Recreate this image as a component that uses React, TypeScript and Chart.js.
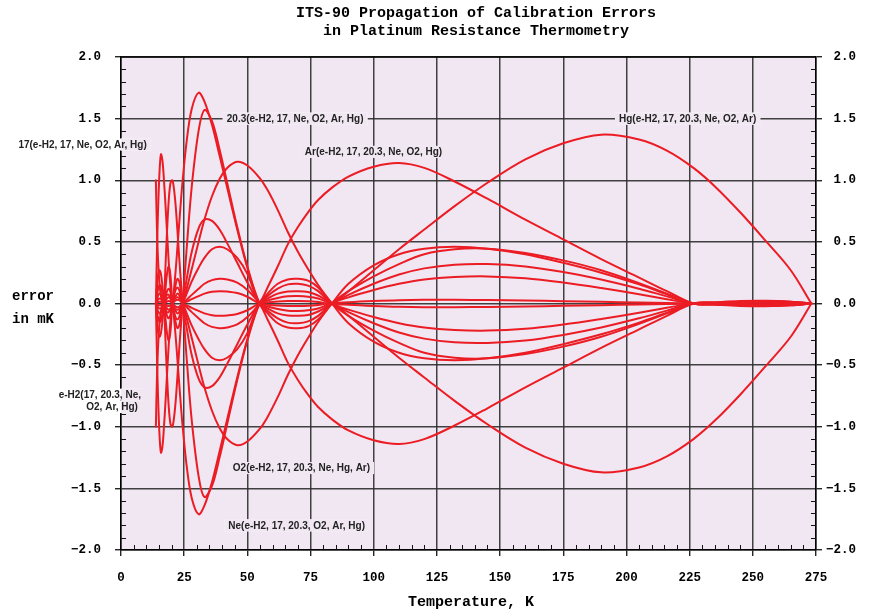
import React, { useEffect, useRef } from "react";
import { Chart, registerables } from "chart.js";

Chart.register(...registerables);

const TITLE_LINES = ["ITS-90 Propagation of Calibration Errors", "in Platinum Resistance Thermometry"];
const X_TITLE = "Temperature, K";
const Y_TITLE = ["error", "in mK"];
const X_TICKS = [0, 25, 50, 75, 100, 125, 150, 175, 200, 225, 250, 275];
const Y_TICKS = [-2, -1.5, -1, -0.5, 0, 0.5, 1, 1.5, 2];

// temperatures (K) at which the curves were read
const TEMPS = [13.8, 14.2, 14.6, 15.2, 15.8, 16.4, 17.0, 17.6, 18.2, 18.9, 19.6, 20.3, 20.9, 21.6, 22.3, 23.0, 23.7, 24.4, 26, 28, 30.7, 33, 36, 39, 42, 46, 50, 54.8, 58, 62, 66, 70, 74, 78, 83.5, 90, 100, 110, 120, 132, 145, 160, 175, 190, 205, 216, 226.5, 235, 245, 255, 265, 273.16];

const EH2_POS = [1.0, 0.62, 0.38, 0.17, 0.06, 0.01, 0, -0.04, -0.07, -0.07, -0.04, 0, 0.025, 0.045, 0.05, 0.045, 0.025, 0, -0.08, -0.18, -0.29, -0.37, -0.44, -0.46, -0.44, -0.37, -0.24, 0, 0.025, 0.045, 0.058, 0.06, 0.055, 0.04, 0, -0.01, -0.02, -0.027, -0.03, -0.03, -0.028, -0.024, -0.019, -0.014, -0.008, -0.004, 0, 0.003, 0.006, 0.007, 0.005, 0];
const EH2_NEG = [-1.0, -0.62, -0.38, -0.17, -0.06, -0.01, 0, 0.04, 0.07, 0.07, 0.04, 0, -0.025, -0.045, -0.05, -0.045, -0.025, 0, 0.08, 0.18, 0.29, 0.37, 0.44, 0.46, 0.44, 0.37, 0.24, 0, -0.025, -0.045, -0.058, -0.06, -0.055, -0.04, 0, 0.01, 0.02, 0.027, 0.03, 0.03, 0.028, 0.024, 0.019, 0.014, 0.008, 0.004, 0, -0.003, -0.006, -0.007, -0.005, 0];

const K17_POS = [0, 0.4, 0.72, 1.05, 1.21, 1.16, 1.0, 0.8, 0.58, 0.33, 0.13, 0, -0.06, -0.11, -0.13, -0.11, -0.06, 0, 0.2, 0.42, 0.61, 0.68, 0.67, 0.6, 0.49, 0.33, 0.17, 0, -0.06, -0.12, -0.155, -0.16, -0.145, -0.1, 0, 0.05, 0.11, 0.16, 0.195, 0.215, 0.22, 0.205, 0.17, 0.125, 0.075, 0.035, 0, -0.004, -0.01, -0.012, -0.008, 0];
const K17_NEG = [0, -0.4, -0.72, -1.05, -1.21, -1.16, -1.0, -0.8, -0.58, -0.33, -0.13, 0, 0.06, 0.11, 0.13, 0.11, 0.06, 0, -0.2, -0.42, -0.61, -0.68, -0.67, -0.6, -0.49, -0.33, -0.17, 0, 0.06, 0.12, 0.155, 0.16, 0.145, 0.1, 0, -0.05, -0.11, -0.16, -0.195, -0.215, -0.22, -0.205, -0.17, -0.125, -0.075, -0.035, 0, 0.004, 0.01, 0.012, 0.008, 0];

const K20_POS = [0, -0.12, -0.22, -0.27, -0.24, -0.14, 0, 0.3, 0.58, 0.84, 0.98, 1.0, 0.94, 0.8, 0.6, 0.38, 0.18, 0, -0.45, -0.95, -1.4, -1.57, -1.48, -1.25, -0.98, -0.62, -0.3, 0, 0.08, 0.16, 0.195, 0.2, 0.185, 0.13, 0, -0.1, -0.22, -0.32, -0.4, -0.44, -0.445, -0.41, -0.35, -0.27, -0.165, -0.08, 0, 0.006, 0.015, 0.02, 0.014, 0];
const K20_NEG = [0, 0.12, 0.22, 0.27, 0.24, 0.14, 0, -0.3, -0.58, -0.84, -0.98, -1.0, -0.94, -0.8, -0.6, -0.38, -0.18, 0, 0.45, 0.95, 1.4, 1.57, 1.48, 1.25, 0.98, 0.62, 0.3, 0, -0.08, -0.16, -0.195, -0.2, -0.185, -0.13, 0, 0.1, 0.22, 0.32, 0.4, 0.44, 0.445, 0.41, 0.35, 0.27, 0.165, 0.08, 0, -0.006, -0.015, -0.02, -0.014, 0];

const NE_POS = [0, 0.06, 0.11, 0.15, 0.14, 0.08, 0, -0.12, -0.24, -0.3, -0.22, 0, 0.1, 0.26, 0.45, 0.64, 0.83, 1.0, 1.32, 1.58, 1.71, 1.64, 1.45, 1.2, 0.94, 0.6, 0.29, 0, -0.04, -0.08, -0.097, -0.1, -0.093, -0.065, 0, 0.07, 0.16, 0.235, 0.285, 0.315, 0.32, 0.3, 0.255, 0.195, 0.12, 0.058, 0, -0.005, -0.012, -0.015, -0.01, 0];
const NE_NEG = [0, -0.06, -0.11, -0.15, -0.14, -0.08, 0, 0.12, 0.24, 0.3, 0.22, 0, -0.1, -0.26, -0.45, -0.64, -0.83, -1.0, -1.32, -1.58, -1.71, -1.64, -1.45, -1.2, -0.94, -0.6, -0.29, 0, 0.04, 0.08, 0.097, 0.1, 0.093, 0.065, 0, -0.07, -0.16, -0.235, -0.285, -0.315, -0.32, -0.3, -0.255, -0.195, -0.12, -0.058, 0, 0.005, 0.012, 0.015, 0.01, 0];

const O2_POS = [0, -0.03, -0.06, -0.08, -0.075, -0.045, 0, 0.05, 0.1, 0.12, 0.09, 0, -0.07, -0.15, -0.2, -0.18, -0.1, 0, 0.12, 0.28, 0.5, 0.68, 0.87, 1.01, 1.1, 1.15, 1.12, 1.02, 0.92, 0.76, 0.58, 0.42, 0.28, 0.15, 0, -0.16, -0.31, -0.4, -0.445, -0.46, -0.445, -0.4, -0.33, -0.25, -0.155, -0.075, 0, 0.006, 0.013, 0.018, 0.012, 0];
const O2_NEG = [0, 0.03, 0.06, 0.08, 0.075, 0.045, 0, -0.05, -0.1, -0.12, -0.09, 0, 0.07, 0.15, 0.2, 0.18, 0.1, 0, -0.12, -0.28, -0.5, -0.68, -0.87, -1.01, -1.1, -1.15, -1.12, -1.02, -0.92, -0.76, -0.58, -0.42, -0.28, -0.15, 0, 0.16, 0.31, 0.4, 0.445, 0.46, 0.445, 0.4, 0.33, 0.25, 0.155, 0.075, 0, -0.006, -0.013, -0.018, -0.012, 0];

const AR_POS = [0, 0.015, 0.03, 0.04, 0.037, 0.022, 0, -0.02, -0.04, -0.05, -0.04, 0, 0.03, 0.06, 0.08, 0.07, 0.04, 0, -0.03, -0.07, -0.12, -0.16, -0.19, -0.2, -0.195, -0.17, -0.11, 0, 0.13, 0.3, 0.48, 0.62, 0.74, 0.84, 0.94, 1.03, 1.11, 1.14, 1.1, 0.99, 0.85, 0.68, 0.52, 0.36, 0.21, 0.1, 0, -0.01, -0.02, -0.022, -0.015, 0];
const AR_NEG = [0, -0.015, -0.03, -0.04, -0.037, -0.022, 0, 0.02, 0.04, 0.05, 0.04, 0, -0.03, -0.06, -0.08, -0.07, -0.04, 0, 0.03, 0.07, 0.12, 0.16, 0.19, 0.2, 0.195, 0.17, 0.11, 0, -0.13, -0.3, -0.48, -0.62, -0.74, -0.84, -0.94, -1.03, -1.11, -1.14, -1.1, -0.99, -0.85, -0.68, -0.52, -0.36, -0.21, -0.1, 0, 0.01, 0.02, 0.022, 0.015, 0];

const HG_POS = [0, 0.006, 0.012, 0.015, 0.014, 0.008, 0, -0.008, -0.016, -0.02, -0.015, 0, 0.012, 0.025, 0.03, 0.027, 0.015, 0, -0.015, -0.035, -0.06, -0.08, -0.095, -0.1, -0.097, -0.085, -0.055, 0, 0.01, 0.017, 0.02, 0.02, 0.018, 0.012, 0, 0.1, 0.27, 0.44, 0.6, 0.79, 0.98, 1.17, 1.3, 1.37, 1.33, 1.24, 1.1, 0.95, 0.74, 0.51, 0.27, 0];
const HG_NEG = [0, -0.006, -0.012, -0.015, -0.014, -0.008, 0, 0.008, 0.016, 0.02, 0.015, 0, -0.012, -0.025, -0.03, -0.027, -0.015, 0, 0.015, 0.035, 0.06, 0.08, 0.095, 0.1, 0.097, 0.085, 0.055, 0, -0.01, -0.017, -0.02, -0.02, -0.018, -0.012, 0, -0.1, -0.27, -0.44, -0.6, -0.79, -0.98, -1.17, -1.3, -1.37, -1.33, -1.24, -1.1, -0.95, -0.74, -0.51, -0.27, 0];

const SERIES = [
  { name: "e-H2 +", values: EH2_POS }, { name: "e-H2 -", values: EH2_NEG },
  { name: "17 +", values: K17_POS }, { name: "17 -", values: K17_NEG },
  { name: "20.3 +", values: K20_POS }, { name: "20.3 -", values: K20_NEG },
  { name: "Ne +", values: NE_POS }, { name: "Ne -", values: NE_NEG },
  { name: "O2 +", values: O2_POS }, { name: "O2 -", values: O2_NEG },
  { name: "Ar +", values: AR_POS }, { name: "Ar -", values: AR_NEG },
  { name: "Hg +", values: HG_POS }, { name: "Hg -", values: HG_NEG },
];

// curve annotations (anchor in data units)
const NOTES = [
  { text: "17(e-H2, 17, Ne, O2, Ar, Hg)", x: -15.2, y: 1.29, align: "center" },
  { text: "20.3(e-H2, 17, Ne, O2, Ar, Hg)", x: 68.9, y: 1.5, align: "center" },
  { text: "Ar(e-H2, 17, 20.3, Ne, O2, Hg)", x: 99.9, y: 1.23, align: "center" },
  { text: "Hg(e-H2, 17, 20.3, Ne, O2, Ar)", x: 224.2, y: 1.5, align: "center" },
  { text: "e-H2(17, 20.3, Ne,", x: 7.9, y: -0.74, align: "right" },
  { text: "O2, Ar, Hg)", x: 6.7, y: -0.84, align: "right" },
  { text: "O2(e-H2, 17, 20.3, Ne, Hg, Ar)", x: 71.4, y: -1.335, align: "center" },
  { text: "Ne(e-H2, 17, 20.3, O2, Ar, Hg)", x: 69.5, y: -1.8, align: "center" },
];

const RED = "rgb(236,28,36)";
const PLOT_BG = "rgb(240,231,242)";
const GRID = "rgba(45,45,45,0.9)";
const MONO = "'Liberation Mono', 'DejaVu Sans Mono', monospace";
const SANS = "'Liberation Sans', Arial, sans-serif";

const fmtY = (v: number) => (v < 0 ? "\u2212" : "") + Math.abs(v).toFixed(1);

const decor = {
  id: "decor",
  beforeDraw(chart: any) {
    const { ctx, chartArea: a } = chart;
    ctx.save();
    ctx.fillStyle = "#ffffff";
    ctx.fillRect(0, 0, chart.width, chart.height);
    ctx.fillStyle = PLOT_BG;
    ctx.fillRect(a.left, a.top, a.right - a.left, a.bottom - a.top);
    ctx.restore();
  },
  beforeDatasetsDraw(chart: any) {
    const { ctx, chartArea: a, scales } = chart;
    const ys = scales.y;
    const xs = scales.x;
    ctx.save();
    ctx.strokeStyle = "#111";
    ctx.lineWidth = 1;
    for (let i = -19; i <= 19; i++) {
      if (i % 5 === 0) continue;
      const py = Math.round(ys.getPixelForValue(i / 10)) + 0.5;
      ctx.beginPath();
      ctx.moveTo(a.left, py);
      ctx.lineTo(a.left + 5, py);
      ctx.moveTo(a.right - 5, py);
      ctx.lineTo(a.right, py);
      ctx.stroke();
    }
    for (let t = 5; t < 275; t += 5) {
      if (t % 25 === 0) continue;
      const px = Math.round(xs.getPixelForValue(t)) + 0.5;
      ctx.beginPath();
      ctx.moveTo(px, a.bottom);
      ctx.lineTo(px, a.bottom - 5);
      ctx.stroke();
    }
    ctx.strokeStyle = "#000";
    ctx.lineWidth = 1.5;
    ctx.beginPath();
    ctx.moveTo(a.left, a.top);
    ctx.lineTo(a.right, a.top);
    ctx.stroke();
    ctx.restore();
  },
  afterDraw(chart: any) {
    const { ctx, chartArea: a, scales } = chart;
    const xs = scales.x;
    const ys = scales.y;
    ctx.save();
    ctx.fillStyle = "#000";
    ctx.font = `bold 12.5px ${MONO}`;
    ctx.textBaseline = "middle";
    for (const v of Y_TICKS) {
      const py = ys.getPixelForValue(v);
      ctx.textAlign = "right";
      ctx.fillText(fmtY(v), a.left - 20, py);
      ctx.fillText(fmtY(v), a.right + 40, py);
    }
    ctx.textAlign = "center";
    for (const t of X_TICKS) {
      ctx.fillText(String(t), xs.getPixelForValue(t), a.bottom + 28);
    }
    ctx.font = `bold 15px ${MONO}`;
    ctx.fillText(TITLE_LINES[0], 476, 13);
    ctx.fillText(TITLE_LINES[1], 476, 31);
    ctx.fillText(X_TITLE, 471, 602);
    ctx.font = `bold 14px ${MONO}`;
    ctx.textAlign = "left";
    ctx.fillText(Y_TITLE[0], 12, 296);
    ctx.fillText(Y_TITLE[1], 12, 319);
    ctx.font = `bold 10px ${SANS}`;
    for (const n of NOTES) {
      const px = xs.getPixelForValue(n.x);
      const py = ys.getPixelForValue(n.y);
      const w = ctx.measureText(n.text).width;
      const left = n.align === "right" ? px - w : px - w / 2;
      const bx = left - 4, by = py - 6, bw = w + 8, bh = 12;
      ctx.fillStyle = "#ffffff";
      ctx.fillRect(bx, by, bw, bh);
      const ix0 = Math.max(bx, a.left), ix1 = Math.min(bx + bw, a.right);
      if (ix1 > ix0) {
        ctx.fillStyle = PLOT_BG;
        ctx.fillRect(ix0, by, ix1 - ix0, bh);
      }
      ctx.fillStyle = "#222";
      ctx.textAlign = "left";
      ctx.fillText(n.text, left, py + 0.5);
    }
    ctx.restore();
  },
};

export default function App() {
  const ref = useRef<HTMLCanvasElement | null>(null);
  useEffect(() => {
    if (!ref.current) return;
    const gridOpts = { color: GRID, lineWidth: 1.5, drawTicks: true, tickLength: 6, tickColor: "#000", tickWidth: 1.2 };
    const borderOpts = { display: true, color: "#000", width: 1.5 };
    const chart = new Chart(ref.current, {
      type: "line",
      data: {
        datasets: SERIES.map((s) => ({
          label: s.name,
          data: TEMPS.map((t, i) => ({ x: t, y: s.values[i] })),
          borderColor: RED,
          borderWidth: 2,
          pointRadius: 0,
          fill: false,
          tension: 0.35,
          borderJoinStyle: "round" as const,
          borderCapStyle: "round" as const,
        })),
      },
      plugins: [decor],
      options: {
        animation: false,
        responsive: false,
        devicePixelRatio: 1,
        layout: { padding: { top: 57, left: 0, right: 0, bottom: 0 } },
        plugins: { legend: { display: false }, tooltip: { enabled: false }, title: { display: false } },
        scales: {
          x: {
            type: "linear",
            min: 0,
            max: 275,
            ticks: { stepSize: 25, display: false },
            grid: gridOpts,
            border: borderOpts,
            afterFit: (s: any) => { s.height = 60; },
          },
          y: {
            type: "linear",
            position: "left",
            min: -2,
            max: 2,
            ticks: { stepSize: 0.5, display: false },
            grid: gridOpts,
            border: borderOpts,
            afterFit: (s: any) => { s.width = 121; },
          },
          y2: {
            type: "linear",
            position: "right",
            min: -2,
            max: 2,
            ticks: { stepSize: 0.5, display: false },
            grid: { ...gridOpts, drawOnChartArea: false },
            border: borderOpts,
            afterFit: (s: any) => { s.width = 54; },
          },
        },
      } as any,
    });
    return () => chart.destroy();
  }, []);
  return (
    <div style={{ position: "absolute", left: 0, top: 0, width: 870, height: 610 }}>
      <canvas ref={ref} width={870} height={610} />
    </div>
  );
}
